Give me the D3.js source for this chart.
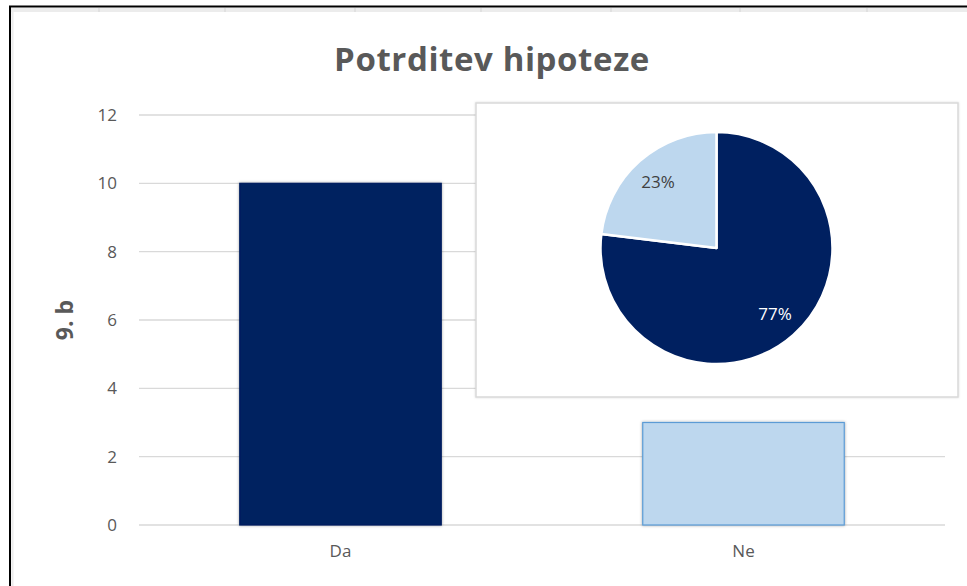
<!DOCTYPE html>
<html>
  <head>
    <title>Potrditev hipoteze</title>
    <style>
      body {
        margin: 0px;
        overflow: hidden;
        background: #fff;
      }
      text { font-family: "Open Sans", sans-serif; }
    </style>
    <script src="https://d3js.org/d3.v7.min.js"></script>
  </head>
  <body>

    <svg width="967" height="586"></svg>

    <script>
      // chart data
      const categories = ['Da', 'Ne'];
      const values = [10, 3];
      const yTicks = [0, 2, 4, 6, 8, 10, 12];
      const barColors = ['#002060', '#bdd7ee'];
      const barStrokes = ['#002060', '#5b9bd5'];
      const cellLines = [99, 225, 355, 481, 611, 740, 867];

      const svg = d3.select('svg');
      const width = +svg.attr('width');
      const height = +svg.attr('height');

      // sheet background + frame
      svg.append('rect').attr('width', width).attr('height', height).attr('fill', '#fff');
      svg.append('rect')
        .attr('x', 11).attr('y', 8).attr('width', width - 11).attr('height', 4)
        .attr('fill', '#ececec');
      svg.selectAll('.cell').data(cellLines)
        .enter().append('line')
          .attr('x1', d => d).attr('x2', d => d)
          .attr('y1', 8).attr('y2', 12)
          .attr('stroke', '#d4d4d4');
      svg.append('line').attr('x1', 9).attr('x2', width).attr('y1', 6.5).attr('y2', 6.5)
        .attr('stroke', '#000').attr('stroke-width', 2);
      svg.append('line').attr('x1', 10).attr('x2', 10).attr('y1', 6).attr('y2', height)
        .attr('stroke', '#000').attr('stroke-width', 2);
      svg.append('line').attr('x1', 12.5).attr('x2', 12.5).attr('y1', 12).attr('y2', height)
        .attr('stroke', '#ececec').attr('stroke-width', 2);

      const margin = { top: 115, right: 22, bottom: 61, left: 139 };
      const innerWidth = width - margin.left - margin.right;
      const innerHeight = height - margin.top - margin.bottom;

      const xScale = d3.scaleBand()
        .domain(categories)
        .range([0, innerWidth])
        .paddingInner(0.5)
        .paddingOuter(0.25);

      const yScale = d3.scaleLinear()
        .domain([0, 12])
        .range([innerHeight, 0]);

      const g = svg.append('g')
        .attr('transform', `translate(${margin.left},${margin.top})`);

      // gridlines
      g.selectAll('.grid').data(yTicks)
        .enter().append('line')
          .attr('x1', 0).attr('x2', innerWidth)
          .attr('y1', d => yScale(d)).attr('y2', d => yScale(d))
          .attr('stroke', '#d9d9d9').attr('stroke-width', 1.3);

      const yAxis = d3.axisLeft(yScale)
        .tickValues(yTicks)
        .tickSize(0)
        .tickPadding(22);

      const yG = g.append('g').call(yAxis);
      yG.select('.domain').remove();
      yG.selectAll('text').attr('fill', '#595959').attr('font-size', 17);

      const xAxis = d3.axisBottom(xScale).tickSize(0).tickPadding(20);
      const xG = g.append('g').attr('transform', `translate(0,${innerHeight})`).call(xAxis);
      xG.select('.domain').remove();
      xG.selectAll('text').attr('fill', '#595959').attr('font-size', 17);

      // bars with a faint shadow
      const defs = svg.append('defs');
      const f = defs.append('filter').attr('id', 'shadow')
        .attr('x', '-10%').attr('y', '-10%').attr('width', '120%').attr('height', '120%');
      f.append('feDropShadow').attr('dx', 0).attr('dy', 0).attr('stdDeviation', 1.5)
        .attr('flood-color', '#000').attr('flood-opacity', 0.35);

      g.selectAll('.bar').data(values)
        .enter().append('rect')
          .attr('class', 'bar')
          .attr('x', (d, i) => xScale(categories[i]))
          .attr('y', d => yScale(d))
          .attr('width', xScale.bandwidth())
          .attr('height', d => innerHeight - yScale(d))
          .attr('fill', (d, i) => barColors[i])
          .attr('stroke', (d, i) => barStrokes[i])
          .attr('stroke-width', 1.2)
          .attr('filter', 'url(#shadow)');

      // title
      svg.append('text')
        .attr('x', 492).attr('y', 71)
        .attr('text-anchor', 'middle')
        .attr('font-size', 33).attr('font-weight', 'bold')
        .attr('letter-spacing', 0.6)
        .attr('fill', '#595959')
        .text('Potrditev hipoteze');

      svg.append('text')
        .attr('transform', 'translate(73,320) rotate(-90)')
        .attr('text-anchor', 'middle')
        .attr('font-size', 23).attr('font-weight', 'bold')
        .attr('fill', '#595959')
        .text('9. b');

      // inset pie chart
      const box = { x: 476, y: 103, w: 482, h: 294 };
      const boxFilter = defs.append('filter').attr('id', 'boxshadow')
        .attr('x', '-5%').attr('y', '-5%').attr('width', '110%').attr('height', '110%');
      boxFilter.append('feDropShadow').attr('dx', 0).attr('dy', 0).attr('stdDeviation', 1.2)
        .attr('flood-color', '#000').attr('flood-opacity', 0.15);
      svg.append('rect')
        .attr('x', box.x).attr('y', box.y).attr('width', box.w).attr('height', box.h)
        .attr('fill', '#fff').attr('stroke', '#d9d9d9').attr('stroke-width', 1.5)
        .attr('filter', 'url(#boxshadow)');

      const total = d3.sum(values);
      const radius = 116;
      const pie = d3.pie().sort(null).value(d => d);
      const arc = d3.arc().innerRadius(0).outerRadius(radius);
      const labelArc = d3.arc().innerRadius(radius * 0.76).outerRadius(radius * 0.76);

      const pg = svg.append('g').attr('transform', 'translate(716.5,248)');
      const slices = pie(values);
      pg.selectAll('path').data(slices)
        .enter().append('path')
          .attr('d', arc)
          .attr('fill', (d, i) => barColors[i])
          .attr('stroke', '#fff')
          .attr('stroke-width', 2.5)
          .attr('stroke-linejoin', 'round');

      const pieLabelColors = ['#fff', '#404040'];
      pg.selectAll('.lbl').data(slices)
        .enter().append('text')
          .attr('transform', d => `translate(${labelArc.centroid(d)})`)
          .attr('text-anchor', 'middle')
          .attr('dy', '0.35em')
          .attr('font-size', 17)
          .attr('fill', (d, i) => pieLabelColors[i])
          .text(d => Math.round(d.value / total * 100) + '%');
    </script>
  </body>
</html>
